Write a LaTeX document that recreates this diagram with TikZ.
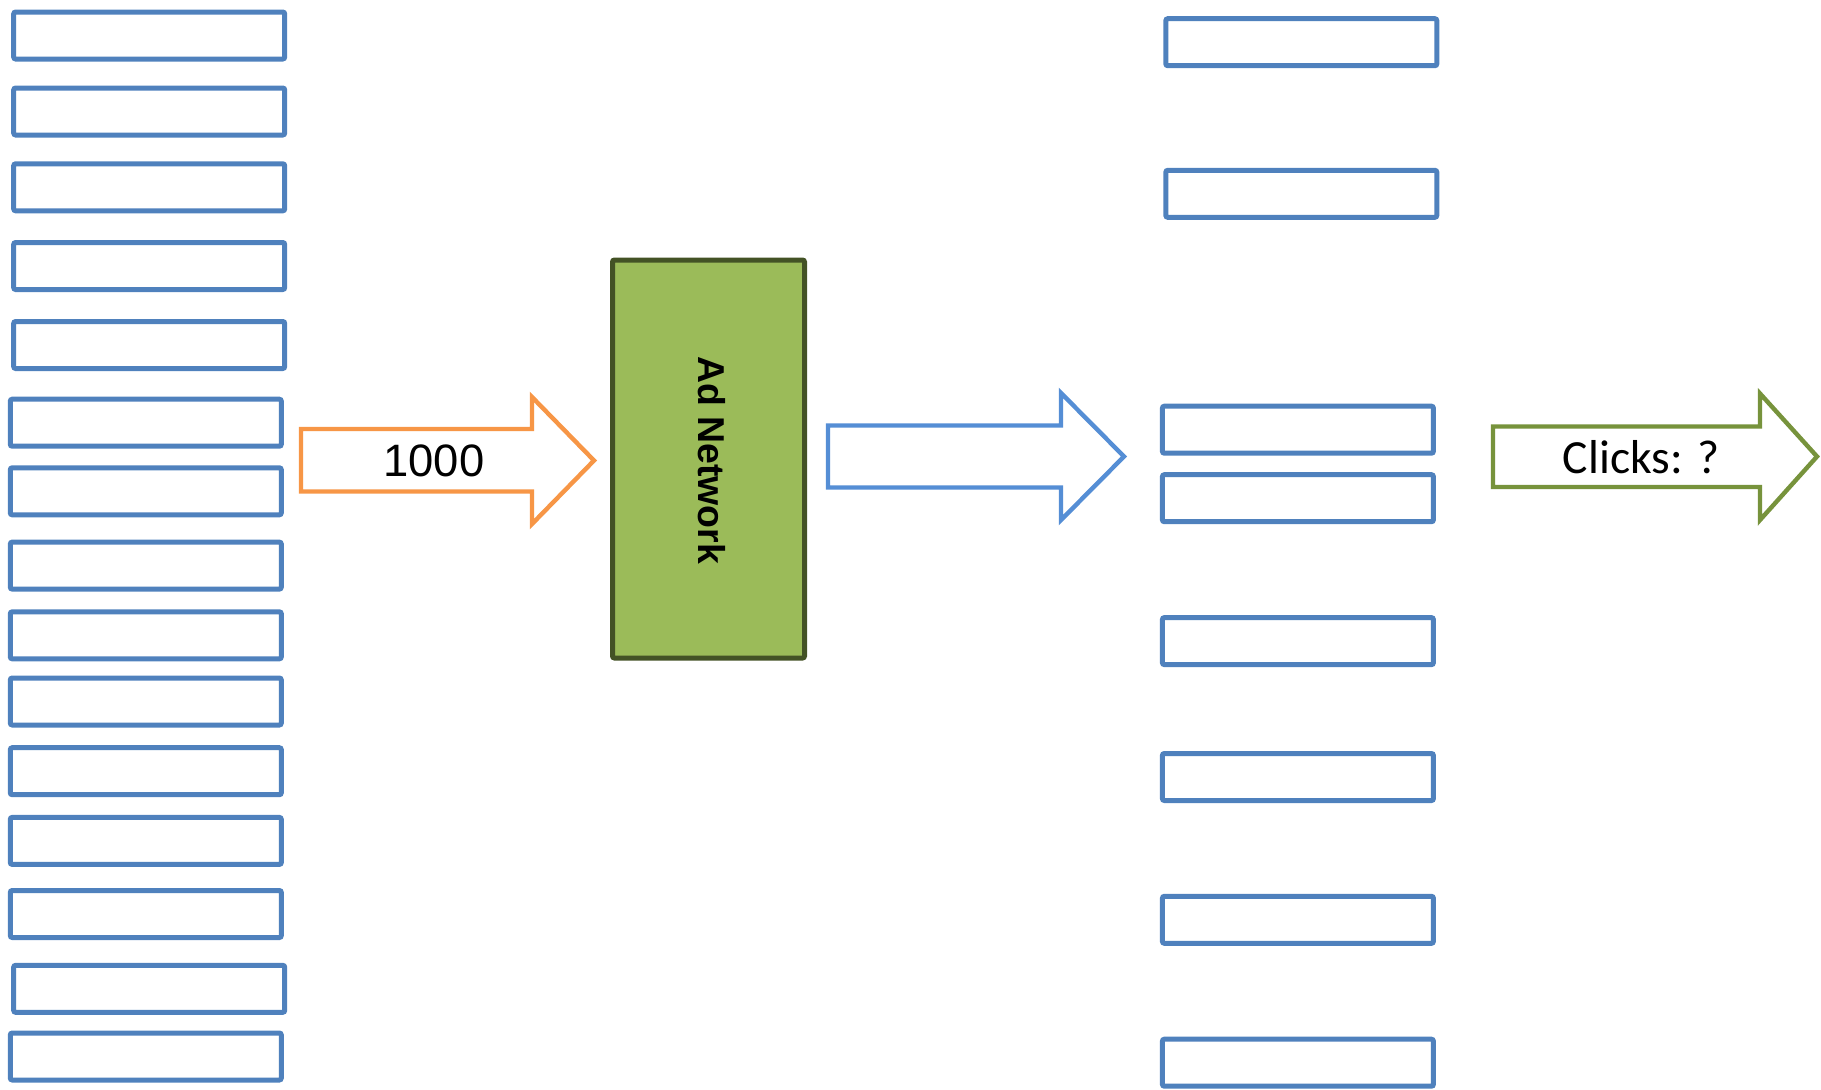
\documentclass[tikz,border=0pt]{standalone}
\usepackage{fontspec}
\setmainfont{Liberation Sans}
\newfontfamily\arialike{Liberation Sans}
\newfontfamily\arialikebold{Liberation Sans Bold}
\newfontfamily\calibrilike{Carlito}
\definecolor{boxblue}{HTML}{4F81BD}
\definecolor{arrowblue}{HTML}{558ED5}
\definecolor{arroworange}{HTML}{F79646}
\definecolor{arrowgreen}{HTML}{77933C}
\definecolor{netfill}{HTML}{9BBB59}
\definecolor{netline}{HTML}{435225}
\tikzset{
  slot/.style={draw=boxblue, line width=2.5pt, rounded corners=1pt, fill=white,
    minimum width=135.5pt, minimum height=23.5pt, inner sep=0pt},
  netbox/.style={draw=netline, line width=2.5pt, fill=netfill, rounded corners=1pt,
    minimum width=96pt, minimum height=199pt, inner sep=0pt},
  blockarrow/.style={line width=2.2pt, miter limit=10, fill=white},
  arrowlabel/.style={inner sep=0pt, text=black}
}
\begin{document}
\begin{tikzpicture}[x=0.5pt,y=-0.5pt]
\useasboundingbox (0,0) rectangle (1821,1089);

% inventory slots on the left
\foreach \n/\x/\y in {1/149.2/35.5, 2/149.2/111.5, 3/149.2/187.3, 4/149.2/266,
    5/149.2/345, 6/145.8/422.7, 7/145.8/491.3, 8/145.8/565.6, 9/145.8/635.3,
    10/145.8/701.5, 11/145.8/771.2, 12/145.8/840.9, 13/145.8/914,
    14/149.2/988.8, 15/145.8/1056.5}
  \node[slot] (in\n) at (\x,\y) {};

% slots on the right
\foreach \n/\x/\y in {1/1301.3/42.2, 2/1301.3/193.8, 3/1297.9/429.7, 4/1297.9/498.2,
    5/1297.9/641.1, 6/1297.9/777, 7/1297.9/919.8, 8/1297.9/1062.7}
  \node[slot] (out\n) at (\x,\y) {};

% the ad network
\node[netbox] (net) at (708.5,459) {};
\node[rotate=-90, inner sep=0pt, font=\arialikebold\fontsize{18.7pt}{22pt}\selectfont]
  (netlabel) at (711.5,460) {Ad Network};

% impressions going in
\draw[blockarrow, draw=arroworange] (301,429) -- (532,429) -- (532,397) -- (594,460.5)
  -- (532,524) -- (532,491.5) -- (301,491.5) -- cycle;
\node[arrowlabel, font=\arialike\fontsize{22.7pt}{26pt}\selectfont] (impr) at (434,461) {1000};

% placements coming out
\draw[blockarrow, draw=arrowblue] (828,425.5) -- (1061,425.5) -- (1061,393) -- (1124,456.5)
  -- (1061,520) -- (1061,487.5) -- (828,487.5) -- cycle;

% resulting clicks
\draw[blockarrow, draw=arrowgreen] (1493,426.5) -- (1760,426.5) -- (1760,393.5) -- (1817,456.5)
  -- (1760,520) -- (1760,487) -- (1493,487) -- cycle;
\node[arrowlabel, font=\calibrilike\fontsize{23.8pt}{28pt}\selectfont] (clicks) at (1641,457) {Clicks: ?};
\end{tikzpicture}
\end{document}
